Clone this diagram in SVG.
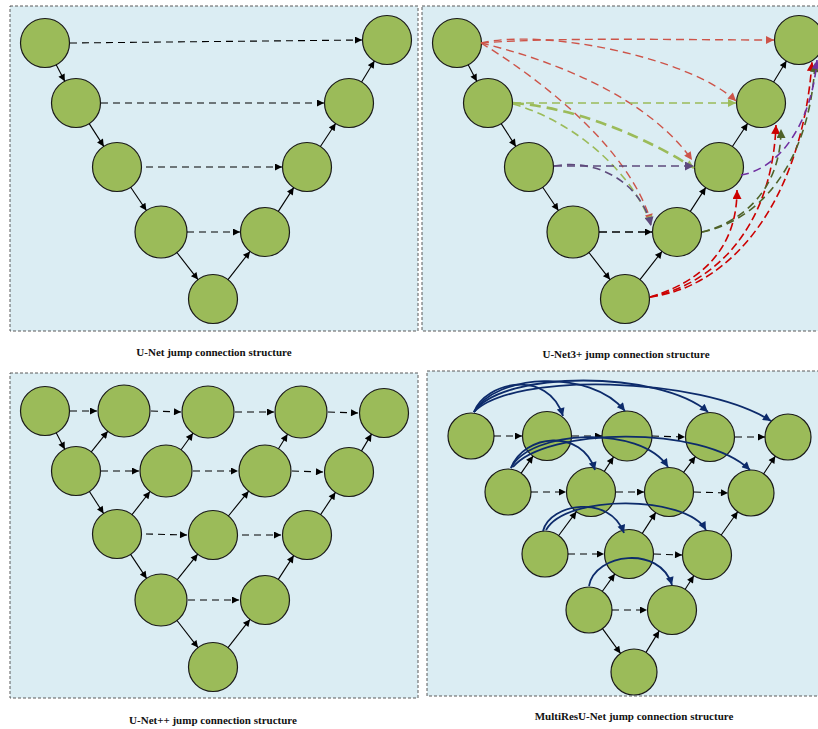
<svg xmlns="http://www.w3.org/2000/svg" width="818" height="729" viewBox="0 0 818 729">
<defs>
<style>
.bg{fill:#dbedf3;stroke:#5a5a5a;stroke-width:1;stroke-dasharray:3 2}
.n{fill:#9bbb59;stroke:#1a1a1a;stroke-width:1.2}
.s{fill:none;stroke:#000;stroke-width:1.1;marker-end:url(#ab)}
.d{fill:none;stroke:#000;stroke-width:1.1;stroke-dasharray:7 5;marker-end:url(#ab)}
.dk{fill:none;stroke:#000;stroke-width:1.6;stroke-dasharray:8 5;marker-end:url(#ab)}
.nv{fill:none;stroke:#0d2b6b;stroke-width:1.8;marker-end:url(#anv)}
.r{fill:none;stroke:#cd5449;stroke-width:1.4;stroke-dasharray:8 5;marker-end:url(#ar)}
.g{fill:none;stroke:#9bbb59;stroke-width:1.6;stroke-dasharray:8 5;marker-end:url(#ag)}
.gt{fill:none;stroke:#9bbb59;stroke-width:2.6;stroke-dasharray:11 6;marker-end:url(#ag)}
.pg{fill:none;stroke:#5e4a7c;stroke-width:1.6;stroke-dasharray:8 5;marker-end:url(#apg)}
.dr{fill:none;stroke:#cc0000;stroke-width:1.6;stroke-dasharray:8 4;marker-end:url(#adr)}
.dg{fill:none;stroke:#4f6228;stroke-width:1.6;stroke-dasharray:8 5;marker-end:url(#adg)}
.pp{fill:none;stroke:#7030a0;stroke-width:1.6;stroke-dasharray:8 5;marker-end:url(#app)}
.t{font-family:"Liberation Serif","Times New Roman",serif;font-weight:bold;font-size:11px;fill:#111;text-anchor:middle}
</style>
<marker id="ab" viewBox="0 0 10 10" refX="10" refY="5" markerWidth="9" markerHeight="7" markerUnits="userSpaceOnUse" orient="auto"><path d="M0,0 L10,5 L0,10 z" fill="#000"/></marker>
<marker id="anv" viewBox="0 0 10 10" refX="10" refY="5" markerWidth="10" markerHeight="8" markerUnits="userSpaceOnUse" orient="auto"><path d="M0,0 L10,5 L0,10 z" fill="#0d2b6b"/></marker>
<marker id="ar" viewBox="0 0 10 10" refX="10" refY="5" markerWidth="11" markerHeight="8" markerUnits="userSpaceOnUse" orient="auto"><path d="M0,0 L10,5 L0,10 z" fill="#cd5449"/></marker>
<marker id="ag" viewBox="0 0 10 10" refX="10" refY="5" markerWidth="11" markerHeight="8" markerUnits="userSpaceOnUse" orient="auto"><path d="M0,0 L10,5 L0,10 z" fill="#9bbb59"/></marker>
<marker id="apg" viewBox="0 0 10 10" refX="10" refY="5" markerWidth="12" markerHeight="9" markerUnits="userSpaceOnUse" orient="auto"><path d="M0,0 L10,5 L0,10 z" fill="#5e4a7c"/></marker>
<marker id="adr" viewBox="0 0 10 10" refX="10" refY="5" markerWidth="12" markerHeight="9" markerUnits="userSpaceOnUse" orient="auto"><path d="M0,0 L10,5 L0,10 z" fill="#cc0000"/></marker>
<marker id="adg" viewBox="0 0 10 10" refX="10" refY="5" markerWidth="12" markerHeight="9" markerUnits="userSpaceOnUse" orient="auto"><path d="M0,0 L10,5 L0,10 z" fill="#4f6228"/></marker>
<marker id="app" viewBox="0 0 10 10" refX="10" refY="5" markerWidth="12" markerHeight="9" markerUnits="userSpaceOnUse" orient="auto"><path d="M0,0 L10,5 L0,10 z" fill="#7030a0"/></marker>
</defs>
<rect width="818" height="729" fill="#fff"/>

<!-- Panel 1: U-Net -->
<g id="panel-unet">
<rect class="bg" x="10" y="6" width="408" height="325"/>
<g id="u-n1"><circle class="n" cx="45" cy="43" r="24.5"/></g>
<g id="u-n2"><circle class="n" cx="76" cy="103" r="24.5"/></g>
<g id="u-n3"><circle class="n" cx="117" cy="167" r="24.5"/></g>
<g id="u-n4"><circle class="n" cx="161" cy="232" r="26"/></g>
<g id="u-n5"><circle class="n" cx="213" cy="299" r="24.5"/></g>
<g id="u-n6"><circle class="n" cx="265" cy="232" r="24.5"/></g>
<g id="u-n7"><circle class="n" cx="307" cy="167" r="24.5"/></g>
<g id="u-n8"><circle class="n" cx="349" cy="103" r="24.5"/></g>
<g id="u-n9"><circle class="n" cx="387" cy="40" r="24.5"/></g>
<g id="u-connectors">
<path class="s" d="M56.2,64.8 L64.8,81.2"/>
<path class="s" d="M89.2,123.6 L103.8,146.4"/>
<path class="s" d="M130.7,187.3 L146.4,210.5"/>
<path class="s" d="M176.9,252.5 L198,279.6"/>
<path class="s" d="M228,279.6 L250,251.4"/>
<path class="s" d="M278.3,211.4 L293.7,187.6"/>
<path class="s" d="M320.4,146.5 L335.6,123.5"/>
<path class="s" d="M361.6,82 L374.4,61"/>
<path class="d" d="M70,43 L362,40"/>
<path class="d" d="M101,103 L324,103"/>
<path class="d" d="M146,167 L282,167"/>
<path class="d" d="M187,232 L240,232"/>
</g>
<text class="t" x="214" y="356">U-Net jump connection structure</text>
</g>

<!-- Panel 2: U-Net3+ -->
<g id="panel-unet3plus">
<rect class="bg" x="422" y="6" width="402" height="325"/>
<g id="u3-n1"><circle class="n" cx="457" cy="43" r="24.5"/></g>
<g id="u3-n2"><circle class="n" cx="488" cy="103" r="24.5"/></g>
<g id="u3-n3"><circle class="n" cx="529" cy="167" r="24.5"/></g>
<g id="u3-n4"><circle class="n" cx="573" cy="232" r="26"/></g>
<g id="u3-n5"><circle class="n" cx="625" cy="299" r="24.5"/></g>
<g id="u3-n6"><circle class="n" cx="677" cy="232" r="24.5"/></g>
<g id="u3-n7"><circle class="n" cx="719" cy="167" r="24.5"/></g>
<g id="u3-n8"><circle class="n" cx="761" cy="103" r="24.5"/></g>
<g id="u3-n9"><circle class="n" cx="799" cy="40" r="24.5"/></g>
<g id="u3-connectors">
<path class="s" d="M468.2,64.8 L476.8,81.2"/>
<path class="s" d="M501.2,123.6 L515.8,146.4"/>
<path class="s" d="M542.7,187.3 L558.4,210.5"/>
<path class="s" d="M588.9,252.5 L610,279.6"/>
<path class="s" d="M640,279.6 L662,251.4"/>
<path class="s" d="M690.3,211.4 L705.7,187.6"/>
<path class="s" d="M732.4,146.5 L747.6,123.5"/>
<path class="s" d="M773.6,82 L786.4,61"/>
<path class="dk" d="M599,232 L652,232"/>
<path class="r" d="M481,43 C560,37 680,40 774,40"/>
<path class="r" d="M481,43 C545,28 690,58 736,101"/>
<path class="r" d="M481,43 C560,62 650,100 692,160"/>
<path class="r" d="M481,43 C545,82 630,150 651,222"/>
<path class="g" d="M513,103 L736,103"/>
<path class="gt" d="M513,103 C580,108 650,140 694,168"/>
<path class="g" d="M513,104 C570,120 630,168 651,224"/>
<path class="pg" d="M554,166 L694,166"/>
<path class="pg" d="M554,166 C600,158 642,185 651,226"/>
<path class="dr" d="M650,297 C700,282 737,250 737,190"/>
<path class="dr" d="M650,297 C712,285 772,230 776,125"/>
<path class="dr" d="M650,297 C732,287 802,200 812,62"/>
<path class="dg" d="M702,232 C742,222 781,190 781,129"/>
<path class="dg" d="M702,232 C762,220 810,160 815,63"/>
<path class="pp" d="M741,175 C782,168 812,120 817,60"/>
</g>
<text class="t" x="626" y="358">U-Net3+ jump connection structure</text>
</g>

<!-- Panel 3: U-Net++ -->
<g id="panel-unetpp">
<rect class="bg" x="10" y="373" width="408" height="325"/>
<g id="pp-x00"><circle class="n" cx="45" cy="411" r="24.5"/></g>
<g id="pp-x01"><circle class="n" cx="124" cy="411" r="26"/></g>
<g id="pp-x02"><circle class="n" cx="208" cy="412" r="26"/></g>
<g id="pp-x03"><circle class="n" cx="301" cy="412" r="26"/></g>
<g id="pp-x04"><circle class="n" cx="384" cy="413" r="24.5"/></g>
<g id="pp-x10"><circle class="n" cx="76" cy="471" r="24.5"/></g>
<g id="pp-x11"><circle class="n" cx="166" cy="471" r="26"/></g>
<g id="pp-x12"><circle class="n" cx="265" cy="471" r="26"/></g>
<g id="pp-x13"><circle class="n" cx="349" cy="472" r="24.5"/></g>
<g id="pp-x20"><circle class="n" cx="117" cy="534" r="24.5"/></g>
<g id="pp-x21"><circle class="n" cx="213" cy="535" r="24.5"/></g>
<g id="pp-x22"><circle class="n" cx="307" cy="535" r="24.5"/></g>
<g id="pp-x30"><circle class="n" cx="161" cy="600" r="26"/></g>
<g id="pp-x31"><circle class="n" cx="265" cy="600" r="24.5"/></g>
<g id="pp-x40"><circle class="n" cx="213" cy="667" r="24.5"/></g>
<g id="pp-connectors">
<path class="s" d="M56.2,432.8 L64.8,449.2"/>
<path class="s" d="M89.4,491.5 L103.6,513.5"/>
<path class="s" d="M130.6,554.4 L146.6,578.4"/>
<path class="s" d="M177,620.5 L198,647.6"/>
<path class="s" d="M91.3,451.9 L107.7,431.3"/>
<path class="s" d="M132,514.7 L150,491.5"/>
<path class="s" d="M177.3,579.7 L197.7,554.1"/>
<path class="s" d="M228,647.6 L250,619.4"/>
<path class="s" d="M181.1,449.8 L192.9,433.2"/>
<path class="s" d="M228.4,516 L248.6,491.2"/>
<path class="s" d="M278.3,579.4 L293.7,555.6"/>
<path class="s" d="M278.5,448.8 L287.5,434.2"/>
<path class="s" d="M320.6,514.6 L335.4,492.4"/>
<path class="s" d="M361.5,450.9 L371.5,434.1"/>
<path class="d" d="M70,411 L97,411"/>
<path class="d" d="M151,411 L181,412"/>
<path class="d" d="M235,412 L274,412"/>
<path class="d" d="M328,412 L358,413"/>
<path class="d" d="M101,471 L139,471"/>
<path class="d" d="M193,471 L238,471"/>
<path class="d" d="M292,471 L323,472"/>
<path class="d" d="M146,534 L187,535"/>
<path class="d" d="M242,535 L281,535"/>
<path class="d" d="M188,600 L239,600"/>
</g>
<text class="t" x="213" y="724">U-Net++ jump connection structure</text>
</g>

<!-- Panel 4: MultiResU-Net -->
<g id="panel-multiresunet">
<rect class="bg" x="427" y="371" width="400" height="325"/>
<g id="mr-x00"><circle class="n" cx="471" cy="436" r="23"/></g>
<g id="mr-x01"><circle class="n" cx="547" cy="436" r="24.5"/></g>
<g id="mr-x02"><circle class="n" cx="627" cy="436" r="25"/></g>
<g id="mr-x03"><circle class="n" cx="710" cy="437" r="24.5"/></g>
<g id="mr-x04"><circle class="n" cx="788" cy="437" r="23"/></g>
<g id="mr-x10"><circle class="n" cx="508" cy="492" r="23"/></g>
<g id="mr-x11"><circle class="n" cx="591" cy="492" r="24.5"/></g>
<g id="mr-x12"><circle class="n" cx="669" cy="492" r="24.5"/></g>
<g id="mr-x13"><circle class="n" cx="751" cy="493" r="23"/></g>
<g id="mr-x20"><circle class="n" cx="545" cy="554" r="23"/></g>
<g id="mr-x21"><circle class="n" cx="629" cy="554" r="24.5"/></g>
<g id="mr-x22"><circle class="n" cx="707" cy="555" r="24.5"/></g>
<g id="mr-x30"><circle class="n" cx="589" cy="610" r="23"/></g>
<g id="mr-x31"><circle class="n" cx="672" cy="610" r="24.5"/></g>
<g id="mr-x40"><circle class="n" cx="634" cy="672" r="23"/></g>
<g id="mr-connectors">
<path class="d" d="M494,436 L522,436"/>
<path class="d" d="M572,436 L602,436"/>
<path class="d" d="M652,436 L685,437"/>
<path class="d" d="M735,437 L765,437"/>
<path class="d" d="M531,492 L566,492"/>
<path class="d" d="M616,492 L644,492"/>
<path class="d" d="M694,492 L728,493"/>
<path class="d" d="M568,554 L604,554"/>
<path class="d" d="M654,554 L682,555"/>
<path class="d" d="M612,610 L647,610"/>
<path class="s" d="M521.2,473.1 L533,456.1"/>
<path class="s" d="M604.3,471.4 L613.5,457"/>
<path class="s" d="M683.6,472.4 L695.4,456.6"/>
<path class="s" d="M763.7,473.8 L775.3,456.2"/>
<path class="s" d="M558.7,535.5 L576.4,511.7"/>
<path class="s" d="M642.3,533.4 L655.7,512.6"/>
<path class="s" d="M721.2,535 L737.7,511.8"/>
<path class="s" d="M602.4,591.3 L614.8,573.9"/>
<path class="s" d="M685.2,589.3 L693.8,575.7"/>
<path class="s" d="M602.5,628.6 L620.5,653.4"/>
<path class="s" d="M646,652.4 L659.2,630.9"/>
<path class="nv" d="M474,412 C485,382 548,368 563,416"/>
<path class="nv" d="M474,412 C495,374 590,368 625,411"/>
<path class="nv" d="M474,412 C502,370 660,370 708,412"/>
<path class="nv" d="M474,412 C512,372 700,376 771,421"/>
<path class="nv" d="M511,468 C524,434 582,428 595,470"/>
<path class="nv" d="M511,468 C530,430 640,424 668,467"/>
<path class="nv" d="M513,467 C545,428 702,424 750,470"/>
<path class="nv" d="M543,531 C550,503 610,494 624,533"/>
<path class="nv" d="M546,530 C566,494 686,495 706,530"/>
<path class="nv" d="M589,586 C595,553 660,545 672,585"/>
</g>
<text class="t" x="634" y="720">MultiResU-Net jump connection structure</text>
</g>
</svg>
